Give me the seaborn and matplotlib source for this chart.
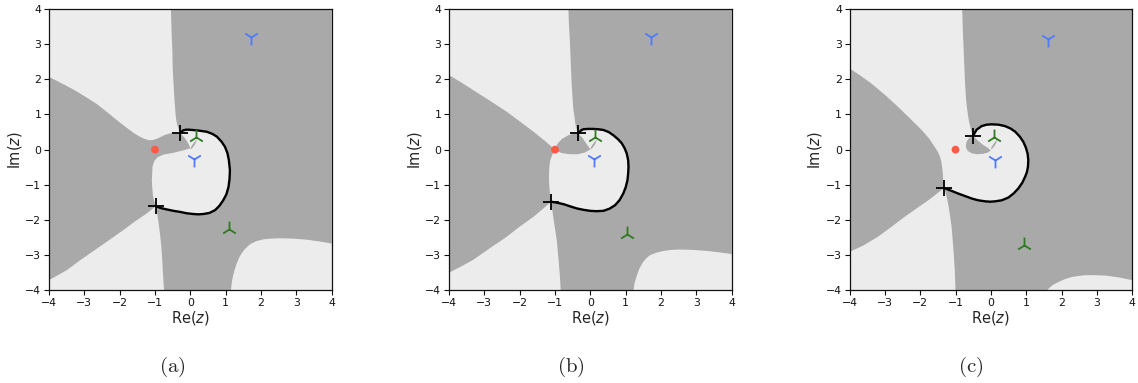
import matplotlib
matplotlib.use("Agg")
import matplotlib.pyplot as plt
import seaborn as sns

# ---------------------------------------------------------------------------
# Data: region boundaries, steepest-descent loop and special points, per panel
# ---------------------------------------------------------------------------
TICKS = [-4, -3, -2, -1, 0, 1, 2, 3, 4]
CAPTIONS = ["(a)", "(b)", "(c)"]

# --- panel (a) ---
A_SADDLES = [(-0.29, 0.48), (-0.98, -1.61)]
A_POLE = [(-1.0, 0.0)]
A_ZEROS_UP = [(0.16, 0.37), (1.08, -2.27)]
A_ZEROS_DOWN = [(0.11, -0.28), (1.72, 3.19)]
A_LOOP = [(-0.29, 0.48), (-0.20, 0.55), (-0.10, 0.57), (0.05, 0.56), (0.18, 0.55),
          (0.32, 0.53), (0.46, 0.51), (0.62, 0.45), (0.75, 0.37), (0.88, 0.23),
          (0.98, 0.08), (1.05, -0.10), (1.09, -0.30), (1.12, -0.58), (1.11, -0.82),
          (1.08, -1.06), (1.02, -1.27), (0.93, -1.44), (0.82, -1.60), (0.70, -1.72),
          (0.54, -1.80), (0.37, -1.83), (0.22, -1.84), (0.08, -1.83), (-0.10, -1.81),
          (-0.29, -1.77), (-0.48, -1.74), (-0.67, -1.70), (-0.84, -1.66), (-0.98, -1.61)]
A_LEFT_REGION = [(-4.0, 2.07), (-3.65, 1.89), (-3.31, 1.71), (-2.98, 1.51), (-2.65, 1.30),
                 (-2.36, 1.07), (-2.08, 0.84), (-1.84, 0.65), (-1.61, 0.48),
                 (-1.45, 0.38), (-1.33, 0.32), (-1.19, 0.27), (-1.09, 0.27), (-0.97, 0.30),
                 (-0.86, 0.35), (-0.72, 0.42), (-0.58, 0.46), (-0.42, 0.48), (-0.29, 0.48),
                 (-0.15, 0.32), (-0.05, 0.16), (0.0, 0.04), (-0.20, -0.02), (-0.48, -0.09),
                 (-0.76, -0.14), (-0.92, -0.21), (-1.02, -0.32), (-1.07, -0.48),
                 (-1.08, -0.68), (-1.09, -0.88), (-1.08, -1.06), (-1.06, -1.30),
                 (-1.02, -1.48), (-0.98, -1.61),
                 (-1.24, -1.82), (-1.58, -2.05), (-1.90, -2.29), (-2.38, -2.63),
                 (-2.84, -2.95), (-3.18, -3.19), (-3.50, -3.43), (-4.0, -3.71)]
A_LOBE = []
A_UPPER_EDGE = [(-0.55, 4.0), (-0.54, 3.65), (-0.53, 3.31), (-0.51, 2.85), (-0.50, 2.36),
                (-0.48, 1.95), (-0.46, 1.60), (-0.44, 1.30), (-0.42, 1.03),
                (-0.40, 0.85), (-0.37, 0.70), (-0.33, 0.58), (-0.29, 0.48)]
A_STRIP_EDGE = [(-0.98, -1.61), (-0.94, -1.80), (-0.91, -2.0), (-0.87, -2.30), (-0.84, -2.57),
                (-0.81, -2.90), (-0.79, -3.24), (-0.77, -3.60), (-0.745, -4.0)]
A_CORNER_EDGE = [(1.15, -4.0), (1.17, -3.80), (1.20, -3.62), (1.25, -3.43), (1.31, -3.24),
                 (1.38, -3.07), (1.47, -2.92), (1.57, -2.80), (1.69, -2.69), (1.87, -2.60),
                 (2.07, -2.55), (2.30, -2.53), (2.54, -2.52), (2.90, -2.53), (3.29, -2.56),
                 (3.65, -2.61), (4.0, -2.67)]

# --- panel (b) ---
B_SADDLES = [(-0.34, 0.46), (-1.11, -1.48)]
B_POLE = [(-1.0, 0.0)]
B_ZEROS_UP = [(0.14, 0.37), (1.04, -2.41)]
B_ZEROS_DOWN = [(0.11, -0.28), (1.72, 3.19)]
B_LOOP = [(-0.34, 0.46), (-0.26, 0.55), (-0.20, 0.58), (-0.06, 0.59), (0.08, 0.59),
          (0.22, 0.58), (0.37, 0.56), (0.52, 0.50), (0.65, 0.41), (0.78, 0.30),
          (0.89, 0.18), (0.97, 0.04), (1.03, -0.11), (1.07, -0.30), (1.08, -0.49),
          (1.07, -0.68), (1.05, -0.87), (1.00, -1.07), (0.93, -1.25), (0.83, -1.43),
          (0.70, -1.58), (0.54, -1.68), (0.37, -1.74), (0.18, -1.75), (-0.01, -1.74),
          (-0.20, -1.71), (-0.39, -1.67), (-0.58, -1.61), (-0.76, -1.55), (-0.94, -1.51),
          (-1.11, -1.48)]
B_LEFT_REGION = [(-4.0, 2.12), (-3.65, 1.91), (-3.31, 1.69), (-2.84, 1.39), (-2.37, 1.08),
                 (-1.98, 0.79), (-1.61, 0.51), (-1.30, 0.26), (-1.0, 0.0), (-1.08, -0.15),
                 (-1.14, -0.32), (-1.16, -0.50), (-1.17, -0.68), (-1.17, -0.87),
                 (-1.16, -1.06), (-1.14, -1.28), (-1.11, -1.48),
                 (-1.35, -1.69), (-1.61, -1.91), (-2.0, -2.19), (-2.37, -2.48),
                 (-2.84, -2.80), (-3.31, -3.13), (-3.65, -3.32), (-4.0, -3.50)]
B_LOBE = [(-1.0, 0.0), (-0.93, 0.17), (-0.80, 0.31), (-0.62, 0.41), (-0.46, 0.46),
          (-0.34, 0.46), (-0.22, 0.33), (-0.10, 0.15), (0.0, 0.01), (-0.15, -0.08),
          (-0.35, -0.13), (-0.58, -0.13), (-0.80, -0.10), (-0.93, -0.05)]
B_UPPER_EDGE = [(-0.62, 4.0), (-0.61, 3.65), (-0.59, 3.31), (-0.57, 2.85), (-0.55, 2.36),
                (-0.53, 1.90), (-0.50, 1.41), (-0.48, 1.15), (-0.45, 0.94),
                (-0.43, 0.78), (-0.41, 0.65), (-0.38, 0.55), (-0.34, 0.46)]
B_STRIP_EDGE = [(-1.11, -1.48), (-1.08, -1.70), (-1.05, -1.91), (-1.0, -2.25), (-0.95, -2.57),
                (-0.92, -2.90), (-0.89, -3.24), (-0.86, -3.62), (-0.84, -4.0)]
B_CORNER_EDGE = [(1.22, -4.0), (1.25, -3.80), (1.31, -3.60), (1.38, -3.40), (1.47, -3.23),
                 (1.57, -3.10), (1.69, -3.00), (1.87, -2.93), (2.07, -2.88), (2.30, -2.85),
                 (2.54, -2.84), (2.90, -2.85), (3.29, -2.88), (3.65, -2.92), (4.0, -2.97)]

# --- panel (c) ---
C_SADDLES = [(-0.50, 0.39), (-1.32, -1.09)]
C_POLE = [(-1.0, 0.0)]
C_ZEROS_UP = [(0.10, 0.35), (0.93, -2.72)]
C_ZEROS_DOWN = [(0.12, -0.30), (1.62, 3.14)]
C_LOOP = [(-0.50, 0.39), (-0.45, 0.49), (-0.40, 0.57), (-0.26, 0.67), (-0.12, 0.71),
          (0.02, 0.72), (0.22, 0.71), (0.40, 0.67), (0.56, 0.60), (0.69, 0.51),
          (0.82, 0.37), (0.92, 0.22), (0.99, 0.06), (1.04, -0.11), (1.06, -0.30),
          (1.05, -0.49), (1.02, -0.64), (0.97, -0.77), (0.89, -0.94), (0.78, -1.10),
          (0.65, -1.24), (0.50, -1.36), (0.31, -1.44), (0.12, -1.47), (-0.02, -1.48),
          (-0.16, -1.47), (-0.36, -1.44), (-0.54, -1.39), (-0.73, -1.32), (-0.92, -1.25),
          (-1.12, -1.17), (-1.32, -1.09)]
C_LEFT_REGION = [(-4.0, 2.31), (-3.68, 2.10), (-3.38, 1.88), (-3.0, 1.56), (-2.63, 1.22),
                 (-2.29, 0.89), (-1.96, 0.56), (-1.75, 0.32), (-1.59, 0.08), (-1.49, -0.08),
                 (-1.44, -0.20), (-1.40, -0.34), (-1.38, -0.49), (-1.36, -0.68),
                 (-1.35, -0.87), (-1.32, -1.09),
                 (-1.55, -1.27), (-1.77, -1.44), (-2.10, -1.67), (-2.44, -1.91),
                 (-2.82, -2.20), (-3.2, -2.48), (-3.60, -2.72), (-4.0, -2.91)]
C_LOBE = [(-0.50, 0.39), (-0.62, 0.33), (-0.69, 0.22), (-0.71, 0.08), (-0.66, -0.03),
          (-0.55, -0.10), (-0.40, -0.13), (-0.22, -0.12), (-0.08, -0.08), (0.0, -0.02),
          (-0.10, 0.06), (-0.24, 0.15), (-0.38, 0.27)]
C_UPPER_EDGE = [(-0.81, 4.0), (-0.80, 3.65), (-0.79, 3.31), (-0.77, 2.85), (-0.75, 2.36),
                (-0.73, 1.90), (-0.70, 1.41), (-0.67, 1.15), (-0.64, 0.94),
                (-0.61, 0.76), (-0.57, 0.60), (-0.54, 0.49), (-0.50, 0.39)]
C_STRIP_EDGE = [(-1.32, -1.09), (-1.26, -1.30), (-1.21, -1.53), (-1.16, -1.85), (-1.11, -2.20),
                (-1.08, -2.58), (-1.05, -2.95), (-1.02, -3.45), (-1.0, -4.0)]
C_CORNER_EDGE = [(1.59, -4.0), (1.67, -3.92), (1.75, -3.85), (1.92, -3.76), (2.10, -3.68),
                 (2.30, -3.62), (2.50, -3.59), (2.68, -3.57), (2.95, -3.57), (3.24, -3.58),
                 (3.60, -3.63), (4.0, -3.71)]

# small sliver between the nearby zeros (same in each panel)
SLIVER = [(0.0, 0.0), (0.06, 0.05), (0.12, 0.13), (0.16, 0.21), (0.18, 0.29),
          (0.12, 0.22), (0.06, 0.14), (0.02, 0.07)]

PANELS = [
    dict(saddles=A_SADDLES, pole=A_POLE, zu=A_ZEROS_UP, zd=A_ZEROS_DOWN, loop=A_LOOP,
         left=A_LEFT_REGION, lobe=A_LOBE, upper=A_UPPER_EDGE, strip=A_STRIP_EDGE,
         corner=A_CORNER_EDGE),
    dict(saddles=B_SADDLES, pole=B_POLE, zu=B_ZEROS_UP, zd=B_ZEROS_DOWN, loop=B_LOOP,
         left=B_LEFT_REGION, lobe=B_LOBE, upper=B_UPPER_EDGE, strip=B_STRIP_EDGE,
         corner=B_CORNER_EDGE),
    dict(saddles=C_SADDLES, pole=C_POLE, zu=C_ZEROS_UP, zd=C_ZEROS_DOWN, loop=C_LOOP,
         left=C_LEFT_REGION, lobe=C_LOBE, upper=C_UPPER_EDGE, strip=C_STRIP_EDGE,
         corner=C_CORNER_EDGE),
]

# ---------------------------------------------------------------------------
# Styling
# ---------------------------------------------------------------------------
sns.set_style("ticks")
plt.rcParams["font.family"] = ["DejaVu Sans"]
plt.rcParams["mathtext.fontset"] = "dejavusans"

LIGHT = "#ececec"
DARK = "#a9a9a9"
RED = "#ff5a45"
GREEN = "#2f7a22"
BLUE = "#4d7cff"

W, H = 1138, 383
fig = plt.figure(figsize=(W / 100, H / 100), dpi=100)

AX_LEFTS = [49, 449, 849.5]
AX_W, AX_H = 282.7, 281.3
AX_TOP = 9
CAPTION_X = [172, 571, 971]


def xs(pts):
    return [p[0] for p in pts]


def ys(pts):
    return [p[1] for p in pts]


for i, P in enumerate(PANELS):
    ax = fig.add_axes([AX_LEFTS[i] / W, (H - AX_TOP - AX_H) / H, AX_W / W, AX_H / H])
    ax.set_facecolor(LIGHT)

    # left shaded sector
    ax.fill(xs(P["left"]), ys(P["left"]), color=DARK, lw=0, zorder=1)
    # separate lobe next to the pole
    if P["lobe"]:
        ax.fill(xs(P["lobe"]), ys(P["lobe"]), color=DARK, lw=0, zorder=1)
    # big shaded sector: top edge -> right edge -> corner region -> strip -> loop -> upper edge
    big = ([P["upper"][0], (4.0, 4.0), (4.0, P["corner"][-1][1])]
           + P["corner"][::-1]
           + P["strip"][::-1]
           + P["loop"][::-1]
           + P["upper"][::-1])
    ax.fill(xs(big), ys(big), color=DARK, lw=0, zorder=1)
    ax.fill(xs(SLIVER), ys(SLIVER), color=DARK, lw=0, zorder=1)

    # steepest-descent loop joining the two saddles
    sns.lineplot(x=xs(P["loop"]), y=ys(P["loop"]), sort=False, estimator=None,
                 color="black", lw=1.7, ax=ax, zorder=3)

    sns.scatterplot(x=xs(P["pole"]), y=ys(P["pole"]), color=RED, s=32,
                    edgecolor="none", ax=ax, zorder=4)
    sns.scatterplot(x=xs(P["zu"]), y=ys(P["zu"]), marker="2", color=GREEN, s=130,
                    linewidth=1.3, ax=ax, zorder=4)
    sns.scatterplot(x=xs(P["zd"]), y=ys(P["zd"]), marker="1", color=BLUE, s=130,
                    linewidth=1.3, ax=ax, zorder=4)
    sns.scatterplot(x=xs(P["saddles"]), y=ys(P["saddles"]), marker="+", color="black",
                    s=130, linewidth=1.3, ax=ax, zorder=5)

    ax.set_xlim(-4, 4)
    ax.set_ylim(-4, 4)
    ax.set_xticks(TICKS)
    ax.set_yticks(TICKS)
    ax.tick_params(labelsize=7.8, length=3.5, width=0.8, pad=2, colors="#111111")
    for s in ax.spines.values():
        s.set_color("#111111")
        s.set_linewidth(0.9)
    ax.set_xlabel("Re($z$)", fontsize=10.5, labelpad=1)
    ax.set_ylabel("Im($z$)", fontsize=10.5, labelpad=1)

    fig.text(CAPTION_X[i] / W, 1 - 367 / H, r"$\mathrm{%s}$" % CAPTIONS[i],
             fontsize=15, ha="center", va="center", math_fontfamily="cm")

fig.savefig("out.png", dpi=100)
